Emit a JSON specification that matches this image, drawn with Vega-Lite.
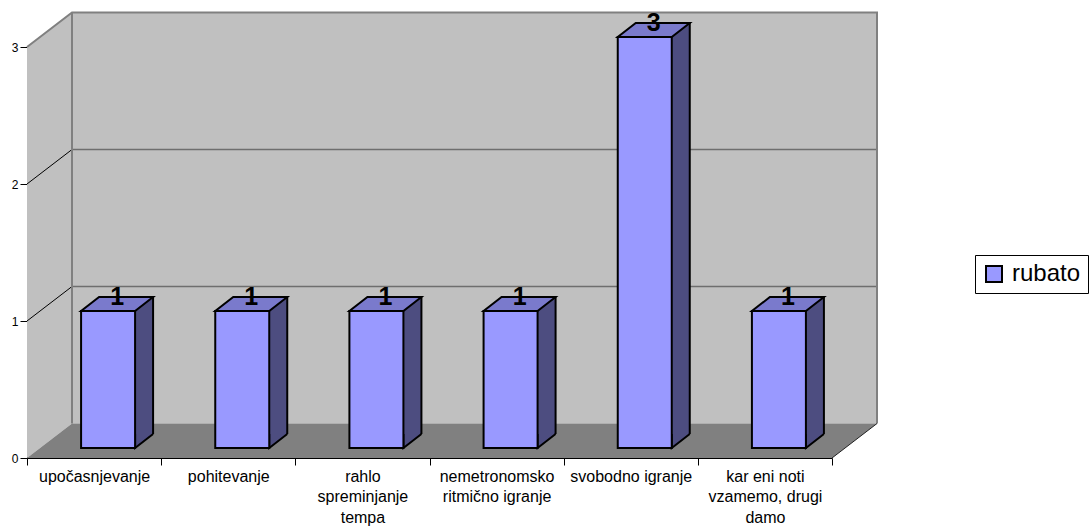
{
  "$schema": "https://vega.github.io/schema/vega-lite/v6.json",
  "width": 805,
  "height": 411,
  "autosize": {"type": "none"},
  "padding": {"left": 27, "top": 47, "right": 260, "bottom": 70},
  "background": "white",
  "config": {"view": {"stroke": null}, "font": "Liberation Sans"},
  "data": {
    "values": [
      {"category": "upočasnjevanje", "value": 1},
      {"category": "pohitevanje", "value": 1},
      {"category": "rahlo spreminjanje tempa", "value": 1},
      {"category": "nemetronomsko ritmično igranje", "value": 1},
      {"category": "svobodno igranje", "value": 3},
      {"category": "kar eni noti vzamemo, drugi damo", "value": 1}
    ]
  },
  "layer": [
    {
      "data": {"values": [{}]},
      "mark": {"type": "point", "shape": "M-0.6708 -4.11L-0.2208 -4.455L7.8292 -4.455L7.8292 -0.345L-0.2208 -0.345L-0.6708 0Z", "size": 40000, "filled": true, "fill": "#c0c0c0", "strokeWidth": 0, "opacity": 1},
      "encoding": {
        "x": {"datum": "upočasnjevanje", "type": "nominal"},
        "y": {"datum": 0, "type": "quantitative"}
      }
    },
    {
      "data": {"values": [{}]},
      "mark": {"type": "point", "shape": "M-0.6708 0L7.3792 0L7.8292 -0.345L-0.2208 -0.345Z", "size": 40000, "filled": true, "fill": "#808080", "strokeWidth": 0, "opacity": 1},
      "encoding": {
        "x": {"datum": "upočasnjevanje", "type": "nominal"},
        "y": {"datum": 0, "type": "quantitative"}
      }
    },
    {
      "data": {"values": [{"tick": 1}, {"tick": 2}]},
      "mark": {"type": "point", "shape": "M-0.2208 -0.345L7.8292 -0.345", "size": 40000, "filled": false, "fill": "transparent", "stroke": "#6e6e6e", "strokeWidth": 1.5, "opacity": 1},
      "encoding": {
        "x": {"datum": "upočasnjevanje", "type": "nominal"},
        "y": {"field": "tick", "type": "quantitative"}
      }
    },
    {
      "data": {"values": [{"tick": 1}, {"tick": 2}]},
      "mark": {"type": "point", "shape": "M-0.6708 0L-0.2208 -0.345", "size": 40000, "filled": false, "fill": "transparent", "stroke": "black", "strokeWidth": 1, "opacity": 1},
      "encoding": {
        "x": {"datum": "upočasnjevanje", "type": "nominal"},
        "y": {"field": "tick", "type": "quantitative"}
      }
    },
    {
      "data": {"values": [{}]},
      "mark": {"type": "point", "shape": "M-0.6708 -4.11L-0.2208 -4.455L7.8292 -4.455L7.8292 -0.345M-0.2208 -4.455L-0.2208 -0.345", "size": 40000, "filled": false, "fill": "transparent", "stroke": "#808080", "strokeWidth": 2, "opacity": 1},
      "encoding": {
        "x": {"datum": "upočasnjevanje", "type": "nominal"},
        "y": {"datum": 0, "type": "quantitative"}
      }
    },
    {
      "data": {"values": [{}]},
      "mark": {"type": "point", "shape": "M7.3792 0L7.8292 -0.345", "size": 40000, "filled": false, "fill": "transparent", "stroke": "#222222", "strokeWidth": 1, "opacity": 1},
      "encoding": {
        "x": {"datum": "upočasnjevanje", "type": "nominal"},
        "y": {"datum": 0, "type": "quantitative"}
      }
    },
    {
      "mark": {"type": "bar", "width": 18, "xOffset": 50, "yOffset": -24, "y2Offset": -24, "fill": "#4d4d80", "strokeWidth": 0},
      "encoding": {
        "x": {
          "field": "category", "type": "nominal", "sort": null,
          "scale": {"paddingInner": 0, "paddingOuter": 0},
          "axis": {
            "title": null, "grid": false, "domainColor": "black", "domainWidth": 1,
            "tickColor": "black", "tickSize": 7, "tickBand": "extent",
            "labelAngle": 0, "labelAlign": "center", "labelOverlap": false, "labelLimit": 200,
            "labelFontSize": 16, "labelColor": "black", "labelPadding": 3,
            "labelBaseline": "top", "labelLineHeight": 20.5,
            "labelExpr": "datum.label == 'rahlo spreminjanje tempa' ? ['rahlo', 'spreminjanje', 'tempa'] : datum.label == 'nemetronomsko ritmično igranje' ? ['nemetronomsko', 'ritmično igranje'] : datum.label == 'kar eni noti vzamemo, drugi damo' ? ['kar eni noti', 'vzamemo, drugi', 'damo'] : datum.label"
          }
        },
        "y": {
          "field": "value", "type": "quantitative", "stack": null,
          "scale": {"domain": [0, 3], "nice": false},
          "axis": {
            "title": null, "grid": false, "values": [0, 1, 2, 3], "format": "d",
            "domainColor": "black", "domainWidth": 1, "tickColor": "black", "tickSize": 7,
            "labelFontSize": 12, "labelColor": "black", "labelPadding": 2
          }
        },
        "y2": {"datum": 0}
      }
    },
    {
      "mark": {"type": "point", "shape": "M0.59 -0.24L0.41 -0.1L0.41 -0.24", "size": 40000, "filled": true, "fill": "#4d4d80", "stroke": "black", "strokeWidth": 2, "opacity": 1},
      "encoding": {
        "x": {"field": "category", "type": "nominal", "sort": null},
        "y": {"datum": 0, "type": "quantitative"}
      }
    },
    {
      "mark": {"type": "bar", "width": 54, "xOffset": 14, "yOffset": -10, "y2Offset": -10, "stroke": "black", "strokeWidth": 2, "opacity": 1},
      "encoding": {
        "x": {"field": "category", "type": "nominal", "sort": null},
        "y": {"field": "value", "type": "quantitative", "stack": null},
        "y2": {"datum": 0},
        "color": {
          "datum": "rubato",
          "scale": {"range": ["#9999ff"]},
          "legend": {
            "title": null, "orient": "none", "legendX": 948, "legendY": 208,
            "symbolType": "square", "symbolSize": 256, "symbolStrokeColor": "black", "symbolStrokeWidth": 2,
            "labelFontSize": 24, "labelColor": "black", "labelOffset": 6,
            "padding": 7, "strokeColor": "black", "fillColor": "white"
          }
        }
      }
    },
    {
      "mark": {"type": "point", "shape": "M-0.13 -0.1L0.41 -0.1L0.59 -0.24L0.05 -0.24Z", "size": 40000, "filled": true, "fill": "#7a7acc", "stroke": "black", "strokeWidth": 2, "opacity": 1},
      "encoding": {
        "x": {"field": "category", "type": "nominal", "sort": null},
        "y": {"field": "value", "type": "quantitative"}
      }
    },
    {
      "mark": {"type": "rule", "xOffset": 59, "x2Offset": 59, "yOffset": -24, "y2Offset": -24, "stroke": "black", "strokeWidth": 2},
      "encoding": {
        "x": {"field": "category", "type": "nominal", "sort": null},
        "y": {"field": "value", "type": "quantitative"},
        "y2": {"datum": 0}
      }
    },
    {
      "mark": {"type": "text", "dx": 23, "dy": -16, "baseline": "alphabetic", "align": "center", "fontSize": 25, "fontWeight": "bold", "color": "black"},
      "encoding": {
        "x": {"field": "category", "type": "nominal", "sort": null},
        "y": {"field": "value", "type": "quantitative"},
        "text": {"field": "value", "type": "quantitative"}
      }
    }
  ]
}
